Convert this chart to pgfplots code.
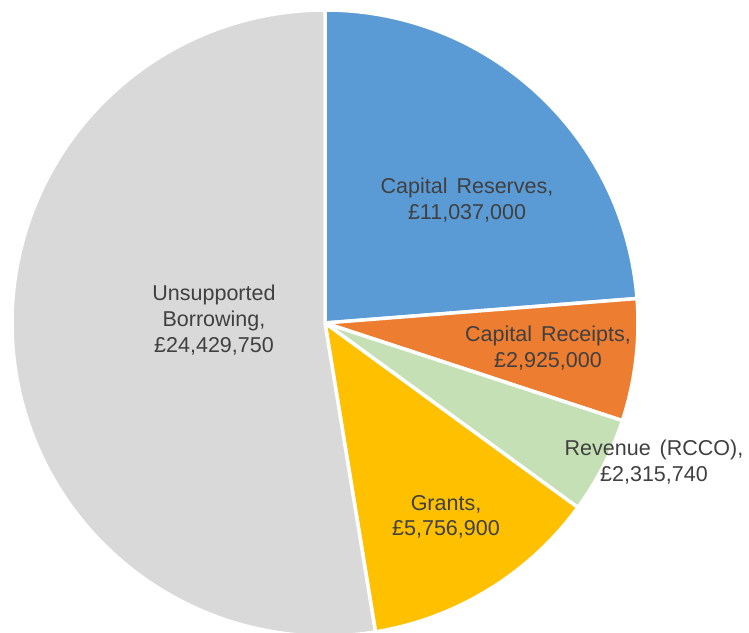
\documentclass[border=0pt]{standalone}
\usepackage{pgfplots}
\usepackage{pgfplotstable}
\usepackage{fontspec}
\setmainfont{Liberation Sans}
\pgfplotsset{compat=1.18}

\definecolor{cReserves}{HTML}{5B9BD5}
\definecolor{cReceipts}{HTML}{ED7D31}
\definecolor{cRevenue}{HTML}{C5E0B4}
\definecolor{cGrants}{HTML}{FFC000}
\definecolor{cBorrow}{HTML}{D9D9D9}
\definecolor{labelgray}{HTML}{404040}

% funding sources, clockwise from 12 o'clock
\pgfplotstableread{
value    col
11037000 cReserves
2925000  cReceipts
2315740  cRevenue
5756900  cGrants
24429750 cBorrow
}\piedata

\begin{document}
\begin{tikzpicture}
\def\total{0}
\pgfplotsforeachungrouped \i in {0,...,4}{%
  \pgfplotstablegetelem{\i}{value}\of\piedata
  \xdef\total{\fpeval{\total+\pgfplotsretval}}%
}
\useasboundingbox (0,0) rectangle (749pt,632pt);
\begin{axis}[
    width=749pt, height=632pt,
    scale only axis,
    xmin=0, xmax=749,
    ymin=0, ymax=632,
    hide axis,
    clip=true,
]
\xdef\startang{90}
\pgfplotsforeachungrouped \i in {0,...,4}{%
  \pgfplotstablegetelem{\i}{value}\of\piedata \let\v\pgfplotsretval
  \pgfplotstablegetelem{\i}{col}\of\piedata \let\c\pgfplotsretval
  \edef\endang{\fpeval{\startang-360*\v/\total}}%
  \edef\cmd{\noexpand\filldraw[fill=\c, draw=white, line width=3.5pt, line join=round]
    (axis cs:325,309) -- ++(\startang:313pt)
    arc[start angle=\startang, end angle=\endang, radius=313pt] -- cycle;}%
  \cmd
  \xdef\startang{\endang}%
}

\tikzset{lbl/.style={font=\fontsize{21.5}{25.7}\selectfont, align=center, text=labelgray, inner sep=0pt}}
\node[lbl] at (axis cs:467,432) {Capital\hspace{0.42em}Reserves,\\£11,037,000};
\node[lbl] at (axis cs:548,284) {Capital\hspace{0.42em}Receipts,\\£2,925,000};
\node[lbl] at (axis cs:654,170) {Revenue\hspace{0.42em}(RCCO),\\£2,315,740};
\node[lbl] at (axis cs:446,115) {Grants,\\£5,756,900};
\node[lbl] at (axis cs:214,312) {Unsupported\\Borrowing,\\£24,429,750};
\end{axis}
\end{tikzpicture}
\end{document}
